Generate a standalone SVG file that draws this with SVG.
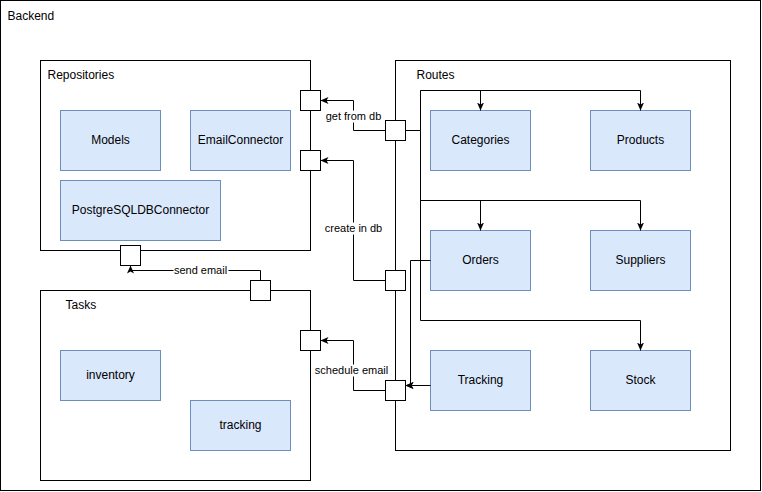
<svg xmlns="http://www.w3.org/2000/svg" width="762" height="492" viewBox="0 0 762 492">
<style>
text{font-family:"Liberation Sans",Arial,Helvetica,sans-serif;fill:#000}
.t12{font-size:12px}
.t11{font-size:11px}
.mid{text-anchor:middle}
.box{fill:#fff;stroke:#000;stroke-width:1}
.node{fill:#dae8fc;stroke:#6c8ebf;stroke-width:1}
.port{fill:#fff;stroke:#000;stroke-width:1}
.edge{fill:none;stroke:#000;stroke-width:1}
.lblbg{fill:#fff}
</style>
<defs>
<marker id="arr" viewBox="0 0 8 8" refX="8" refY="4" markerWidth="8" markerHeight="8" markerUnits="userSpaceOnUse" orient="auto">
<path d="M8,4 L0,0.5 L2,4 L0,7.5 Z" fill="#000"/>
</marker>
</defs>
<rect width="762" height="492" fill="#fff"/>
<g transform="translate(0.5,0.5)">
<g id="backend">
<rect class="box" x="0" y="0" width="760" height="490"/>
<text class="t12" x="7" y="19">Backend</text>
</g>
<g id="repositories">
<rect class="box" x="40" y="60" width="270" height="190"/>
<text class="t12" x="47" y="78">Repositories</text>
</g>
<g id="tasks">
<rect class="box" x="40" y="290" width="270" height="190"/>
<text class="t12" x="65" y="308">Tasks</text>
</g>
<g id="routes">
<rect class="box" x="395" y="60" width="335" height="390"/>
<text class="t12" x="416" y="78">Routes</text>
</g>
<g id="models"><rect class="node" x="60" y="110" width="100" height="60"/><text class="t12 mid" x="110" y="143">Models</text></g>
<g id="emailconnector"><rect class="node" x="190" y="110" width="100" height="60"/><text class="t12 mid" x="240" y="143">EmailConnector</text></g>
<g id="postgresqldbconnector"><rect class="node" x="60" y="180" width="160" height="60"/><text class="t12 mid" x="140" y="213">PostgreSQLDBConnector</text></g>
<g id="inventory"><rect class="node" x="60" y="350" width="100" height="50"/><text class="t12 mid" x="110" y="378">inventory</text></g>
<g id="tracking-task"><rect class="node" x="190" y="400" width="100" height="50"/><text class="t12 mid" x="240" y="428">tracking</text></g>
<g id="categories"><rect class="node" x="430" y="110" width="100" height="60"/><text class="t12 mid" x="480" y="143">Categories</text></g>
<g id="products"><rect class="node" x="590" y="110" width="100" height="60"/><text class="t12 mid" x="640" y="143">Products</text></g>
<g id="orders"><rect class="node" x="430" y="230" width="100" height="60"/><text class="t12 mid" x="480" y="263">Orders</text></g>
<g id="suppliers"><rect class="node" x="590" y="230" width="100" height="60"/><text class="t12 mid" x="640" y="263">Suppliers</text></g>
<g id="tracking-route"><rect class="node" x="430" y="350" width="100" height="60"/><text class="t12 mid" x="480" y="383">Tracking</text></g>
<g id="stock"><rect class="node" x="590" y="350" width="100" height="60"/><text class="t12 mid" x="640" y="383">Stock</text></g>
<g id="connectors">
<path class="edge" d="M385,130 H353 V100 H320" marker-end="url(#arr)"/>
<path class="edge" d="M385,280 H353 V160 H320" marker-end="url(#arr)"/>
<path class="edge" d="M385,390 H353 V340 H320" marker-end="url(#arr)"/>
<path class="edge" d="M260,280 V270 H130 V265" marker-end="url(#arr)"/>
<path class="edge" d="M405,130 H420 V90 H480 V110" marker-end="url(#arr)"/>
<path class="edge" d="M420,90 H640 V110" marker-end="url(#arr)"/>
<path class="edge" d="M420,130 V200 H480 V230" marker-end="url(#arr)"/>
<path class="edge" d="M420,200 H640 V230" marker-end="url(#arr)"/>
<path class="edge" d="M420,200 V320 H640 V350" marker-end="url(#arr)"/>
<path class="edge" d="M430,260 H410 V385 H405" marker-end="url(#arr)"/>
<path class="edge" d="M430,385 H405" marker-end="url(#arr)"/>
<rect class="lblbg" x="325" y="110" width="56" height="12"/>
<text class="t11 mid" x="353" y="119.5">get from db</text>
<rect class="lblbg" x="323" y="222" width="60" height="12"/>
<text class="t11 mid" x="353" y="231.5">create in db</text>
<rect class="lblbg" x="314" y="364" width="74" height="12"/>
<text class="t11 mid" x="351" y="373.5">schedule email</text>
<rect class="lblbg" x="173" y="264" width="55" height="12"/>
<text class="t11 mid" x="200" y="273.5">send email</text>
</g>
<g id="ports">
<rect class="port" x="300" y="90" width="20" height="20"/>
<rect class="port" x="300" y="150" width="20" height="20"/>
<rect class="port" x="300" y="330" width="20" height="20"/>
<rect class="port" x="385" y="120" width="20" height="20"/>
<rect class="port" x="385" y="270" width="20" height="20"/>
<rect class="port" x="385" y="380" width="20" height="20"/>
<rect class="port" x="120" y="245" width="20" height="20"/>
<rect class="port" x="250" y="280" width="20" height="20"/>
</g>
</g>
</svg>
